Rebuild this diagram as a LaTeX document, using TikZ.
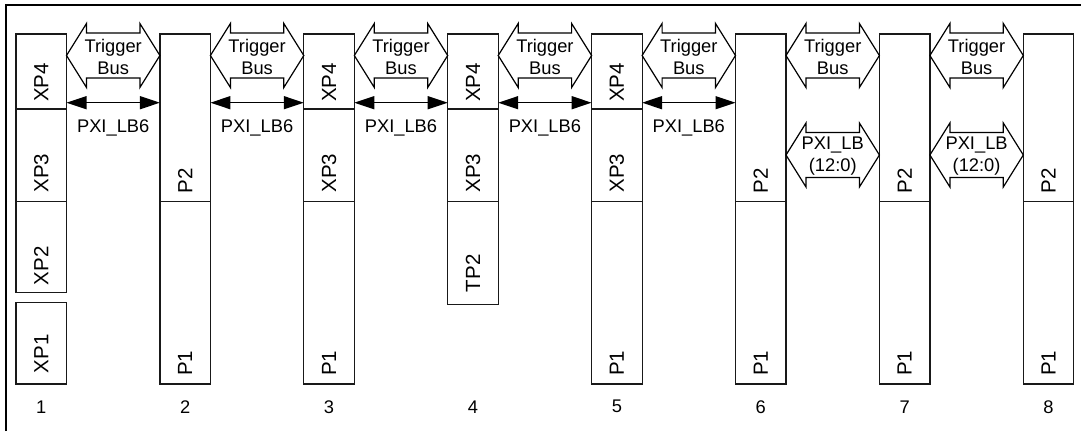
\documentclass[tikz,border=0pt]{standalone}
\usepackage{fontspec}
\setmainfont{Liberation Sans}
\usetikzlibrary{arrows.meta}

\tikzset{
  slotbox/.style={draw=black!90, line width=1.2pt},
  seclbl/.style={rotate=90, anchor=west, inner sep=0pt, font=\fontsize{20.5}{24}\selectfont},
  buslbl/.style={align=center, inner sep=0pt, font=\fontsize{18.3}{21.4}\selectfont},
  busshape/.style={draw=black, line width=1.2pt, fill=white, line join=miter},
  lbsix/.style={draw=black, line width=1.4pt, {Triangle[length=20pt,width=13pt]}-{Triangle[length=20pt,width=13pt]}},
  numlbl/.style={inner sep=0pt, font=\fontsize{18.3}{21}\selectfont},
}

% one section of a slot: name, centre x, top, bottom, label gap, label
\newcommand{\slotsec}[6]{%
  \draw[slotbox] (#2-25.25,#3) rectangle (#2+25.25,#4);
  \node[seclbl] (#1) at (#2,#4-#5) {#6};
}
% hollow double arrow: right edge of slot, left edge of next slot, centre y
\newcommand{\busarrow}[3]{%
  \draw[busshape] (#1,#3) -- (#1+20,#3-32) -- (#1+20,#3-22.5) -- (#2-20,#3-22.5) -- (#2-20,#3-32) -- (#2,#3) -- (#2-20,#3+32) -- (#2-20,#3+22.5) -- (#1+20,#3+22.5) -- (#1+20,#3+32) -- cycle;
}

\begin{document}
\begin{tikzpicture}[x=1pt,y=-1pt]
\useasboundingbox (0,0) rectangle (1081,431);

%Frame
\draw [line width=2pt] (6,431) -- (6,5) -- (1081,5);

%Slot 1
\slotsec{xpf1}{41.25}{34}{109}{7}{XP4}
\slotsec{xpt1}{41.25}{109}{201.7}{9}{XP3}
\slotsec{xps1}{41.25}{201.7}{292.7}{7.5}{XP2}
\slotsec{xpo1}{41.25}{302.7}{384}{10.5}{XP1}
%Slots 2, 6, 7, 8
\foreach \cx/\n in {185.15/2, 760.75/6, 904.65/7, 1048.55/8} {
  \slotsec{ptwo\n}{\cx}{34}{201.7}{8.5}{P2}
  \slotsec{pone\n}{\cx}{201.7}{384}{8}{P1}
}
%Slots 3, 5
\foreach \cx/\n in {329.05/3, 616.85/5} {
  \slotsec{xpf\n}{\cx}{34}{109}{7}{XP4}
  \slotsec{xpt\n}{\cx}{109}{201.7}{9}{XP3}
  \slotsec{pone\n}{\cx}{201.7}{384}{8}{P1}
}
%Slot 4
\slotsec{xpf4}{472.95}{34}{109}{7}{XP4}
\slotsec{xpt4}{472.95}{109}{201.7}{9}{XP3}
\slotsec{tptwo4}{472.95}{201.7}{304.3}{12}{TP2}

%Slot numbers and slot edges
\foreach \n in {1,...,8} {
  \node[numlbl] (num\n) at ({41.25+143.9*(\n-1)},406.7) {\n};
  \coordinate (w\n) at ({16+143.9*(\n-1)},102.7);
  \coordinate (e\n) at ({66.5+143.9*(\n-1)},102.7);
}

%Trigger bus
\foreach \n in {1,...,7} {
  \pgfmathsetmacro\xr{66.5+143.9*(\n-1)}
  \pgfmathsetmacro\xl{\xr+93.4}
  \busarrow{\xr}{\xl}{55.5}
  \node[buslbl] (tb\n) at ({(\xr+\xl)/2},57) {Trigger\\Bus};
}

%PXI_LB6 lines
\foreach \n in {1,...,5} {
  \pgfmathtruncatemacro\m{\n+1}
  \draw[lbsix] (e\n) -- (w\m);
  \node[buslbl] (lbs\n) at ({113.2+143.9*(\n-1)},127.5) {PXI\_LB6};
}

%PXI_LB(12:0)
\foreach \n in {6,7} {
  \pgfmathsetmacro\xr{66.5+143.9*(\n-1)}
  \pgfmathsetmacro\xl{\xr+93.4}
  \busarrow{\xr}{\xl}{155}
  \node[buslbl, font=\fontsize{18.3}{22}\selectfont] (lbx\n) at ({(\xr+\xl)/2},156) {PXI\_LB\\(12:0)};
}

\end{tikzpicture}
\end{document}
